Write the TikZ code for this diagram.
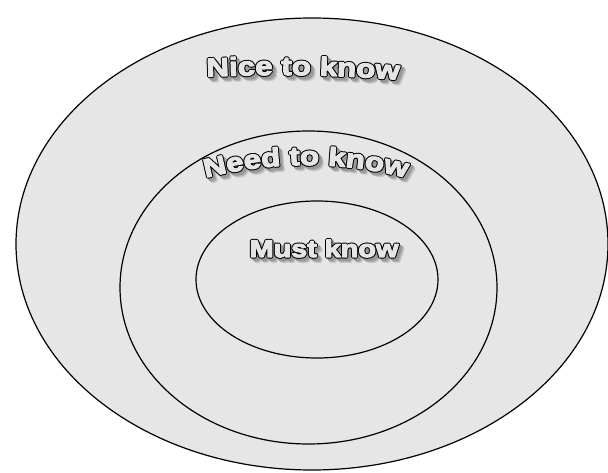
\documentclass[tikz,border=0pt]{standalone}
\usepackage{fontspec}
\usetikzlibrary{decorations.text,shapes.geometric}
\newfontfamily\blk[FakeStretch=1.2]{Liberation Sans Bold}
\newcommand\heavy{\special{pdf:code 2 Tr 1 j 3.2 w}}
\newcommand\outl{\special{pdf:code 2 Tr 1 j 1.2 w 0.9 0.9 0.9 rg 0.9 0.9 0.9 RG}}
\definecolor{ringgrey}{HTML}{E6E6E6}
\tikzset{
  ring/.style={draw=black, line width=1.2pt, fill=ringgrey, ellipse, inner sep=0pt},
  musttext/.style={anchor=base, inner sep=0pt},
}
\newcommand\arctext[4]{%
  \path[shift={#1}, decorate, decoration={text along path, text align=center, text={|#2|#4}}] #3;}
\newcommand\nicepath{(146.1,391.0) arc[start angle=95.12, end angle=83.12, radius=1500]}
\newcommand\needpath{(182.4,287.4) arc[start angle=108, end angle=72, radius=400]}
\newcommand\fnice{\blk\fontsize{26}{26}\selectfont}
\newcommand\fmust{\blk\fontsize{24}{24}\selectfont}
\begin{document}
\begin{tikzpicture}[x=1pt,y=1pt]
\useasboundingbox (0,0) rectangle (608,472);
\node[ring, minimum width=592pt, minimum height=452pt] (outer) at (312,228) {};
\node[ring, minimum width=377pt, minimum height=313pt] (middle) at (308.5,184.5) {};
\node[ring, minimum width=242pt, minimum height=157pt] (inner) at (317,192.5) {};
% shadows
\foreach \d/\c in {4.5/20,3.5/30,2.5/40}{
  \arctext{(\d,-\d)}{\fnice\color{black!\c}\heavy}{\nicepath}{Nice to know}
  \arctext{(\d,-\d)}{\fnice\color{black!\c}\heavy}{\needpath}{Need to know}
  \node[musttext] at (324+\d,215-\d) {\fmust\color{black!\c}\heavy Must know};
}
% black heavy layer
\arctext{(0,0)}{\fnice\color{black}\heavy}{\nicepath}{Nice to know}
\arctext{(0,0)}{\fnice\color{black}\heavy}{\needpath}{Need to know}
\node[musttext] at (324,215) {\fmust\color{black}\heavy Must know};
% grey inner layer
\arctext{(0,0)}{\fnice\outl}{\nicepath}{Nice to know}
\arctext{(0,0)}{\fnice\outl}{\needpath}{Need to know}
\node[musttext] (must) at (324,215) {\fmust\outl Must know};
\end{tikzpicture}
\end{document}
